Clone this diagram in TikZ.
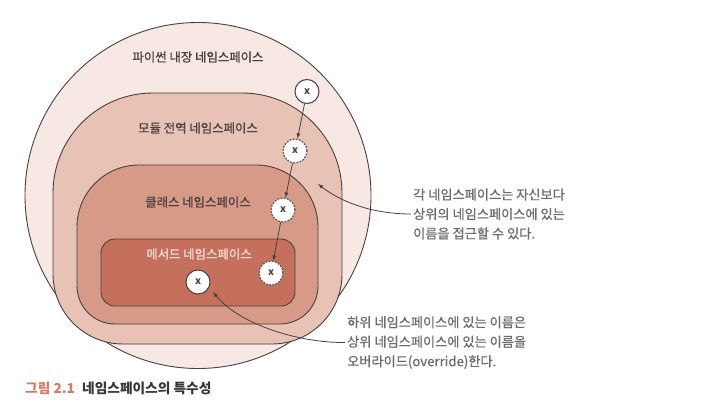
\documentclass[tikz,border=0pt]{standalone}
\usepackage{fontspec}
\setmainfont{Noto Sans CJK KR}
\newfontfamily\moyen{Noto Sans CJK KR}[FakeBold=0.7]
\usepackage{xcolor}
\usepackage{tikz}
\definecolor{trait}{HTML}{4A4040}
\definecolor{gristrait}{HTML}{6A6060}
\definecolor{grisnote}{HTML}{6E6A6A}
\definecolor{fondA}{HTML}{F7E8E4}
\definecolor{fondB}{HTML}{E8C3B5}
\definecolor{fondC}{HTML}{D69A87}
\definecolor{fondD}{HTML}{C4705D}
\definecolor{texteclair}{HTML}{F6DED7}
\definecolor{saumon}{HTML}{D57B62}
\definecolor{titre}{HTML}{3A3636}

\begin{document}
\begin{tikzpicture}[x=1pt,y=-1pt]
% Styles (MODIFIABLES)
\tikzstyle{fleche}=[->,>=latex,draw=trait,line width=0.8pt]
\tikzstyle{zone}=[draw=trait,line width=0.9pt]
\tikzstyle{nom}=[circle,draw=trait,fill=white,line width=1pt,minimum size=24pt,inner sep=0pt,text=trait,font=\bfseries\fontsize{10}{10}\selectfont]
\tikzstyle{nomcache}=[nom,draw=gristrait,line width=1.3pt,dash pattern=on 2pt off 1.2pt]
\tikzstyle{etiquette}=[text=trait,font=\moyen\fontsize{12.4}{12.4}\selectfont]
\tikzstyle{remarque}=[anchor=west,align=left,inner sep=2pt,text=grisnote,font=\moyen\fontsize{13.2}{19.5}\selectfont]
\tikzstyle{legende}=[anchor=west,inner sep=2pt,font=\bfseries\fontsize{13.7}{13.7}\selectfont]
% Cadre
\useasboundingbox (0,0) rectangle (704,406);
% Zones
\draw[zone,fill=fondA] (198,195.5) circle (173);
\draw[zone,fill=fondB] (53,193) arc[start angle=180,end angle=270,radius=100] -- (242,93)
  arc[start angle=270,end angle=360,radius=100] -- (342,274)
  arc[start angle=0,end angle=90,radius=70] -- (123,344)
  arc[start angle=90,end angle=180,radius=70] -- cycle;
\draw[zone,fill=fondC] (77,227) arc[start angle=180,end angle=270,radius=62] -- (256,165)
  arc[start angle=270,end angle=360,radius=62] -- (318,286)
  arc[start angle=0,end angle=90,radius=38] -- (115,324)
  arc[start angle=90,end angle=180,radius=38] -- cycle;
\draw[zone,fill=fondD,rounded corners=14] (101,239) rectangle (295,306);
% Etiquettes
\node[etiquette] (interne) at (198,57) {파이썬 내장 네임스페이스};
\node[etiquette] (module) at (198,128) {모듈 전역 네임스페이스};
\node[etiquette] (classe) at (198,202) {클래스 네임스페이스};
\node[etiquette,text=texteclair] (methode) at (199,254) {메서드 네임스페이스};
% Noeuds
\node[nom] (xA) at (307,91.5) {x};
\node[nomcache] (xB) at (295,151) {x};
\node[nomcache] (xC) at (283,210) {x};
\node[nomcache] (xD) at (271,273) {x};
\node[nom] (xE) at (198,282) {x};
\node[remarque] (remarqueA) at (411,214) {각 네임스페이스는 자신보다\\상위의 네임스페이스에 있는\\이름을 접근할 수 있다.};
\node[remarque] (remarqueB) at (345,342.5) {하위 네임스페이스에 있는 이름은\\상위 네임스페이스에 있는 이름을\\오버라이드(override)한다.};
\coordinate (cibleA) at (318,184);
\coordinate (cibleB) at (213,292);
% Legende
\node[legende,text=saumon] (numero) at (23,388) {그림 2.1};
\node[legende,text=titre] (titrefig) at (80,388) {네임스페이스의 특수성};
% Arcs
\draw[fleche] (xA)--(xB);
\draw[fleche] (xB)--(xC);
\draw[fleche] (xC)--(xD);
\draw[fleche] (remarqueA.west) .. controls (378,214) and (345,205) .. (cibleA);
\draw[fleche] (remarqueB.west) .. controls (300,343) and (240,325) .. (cibleB);
\end{tikzpicture}
\end{document}
